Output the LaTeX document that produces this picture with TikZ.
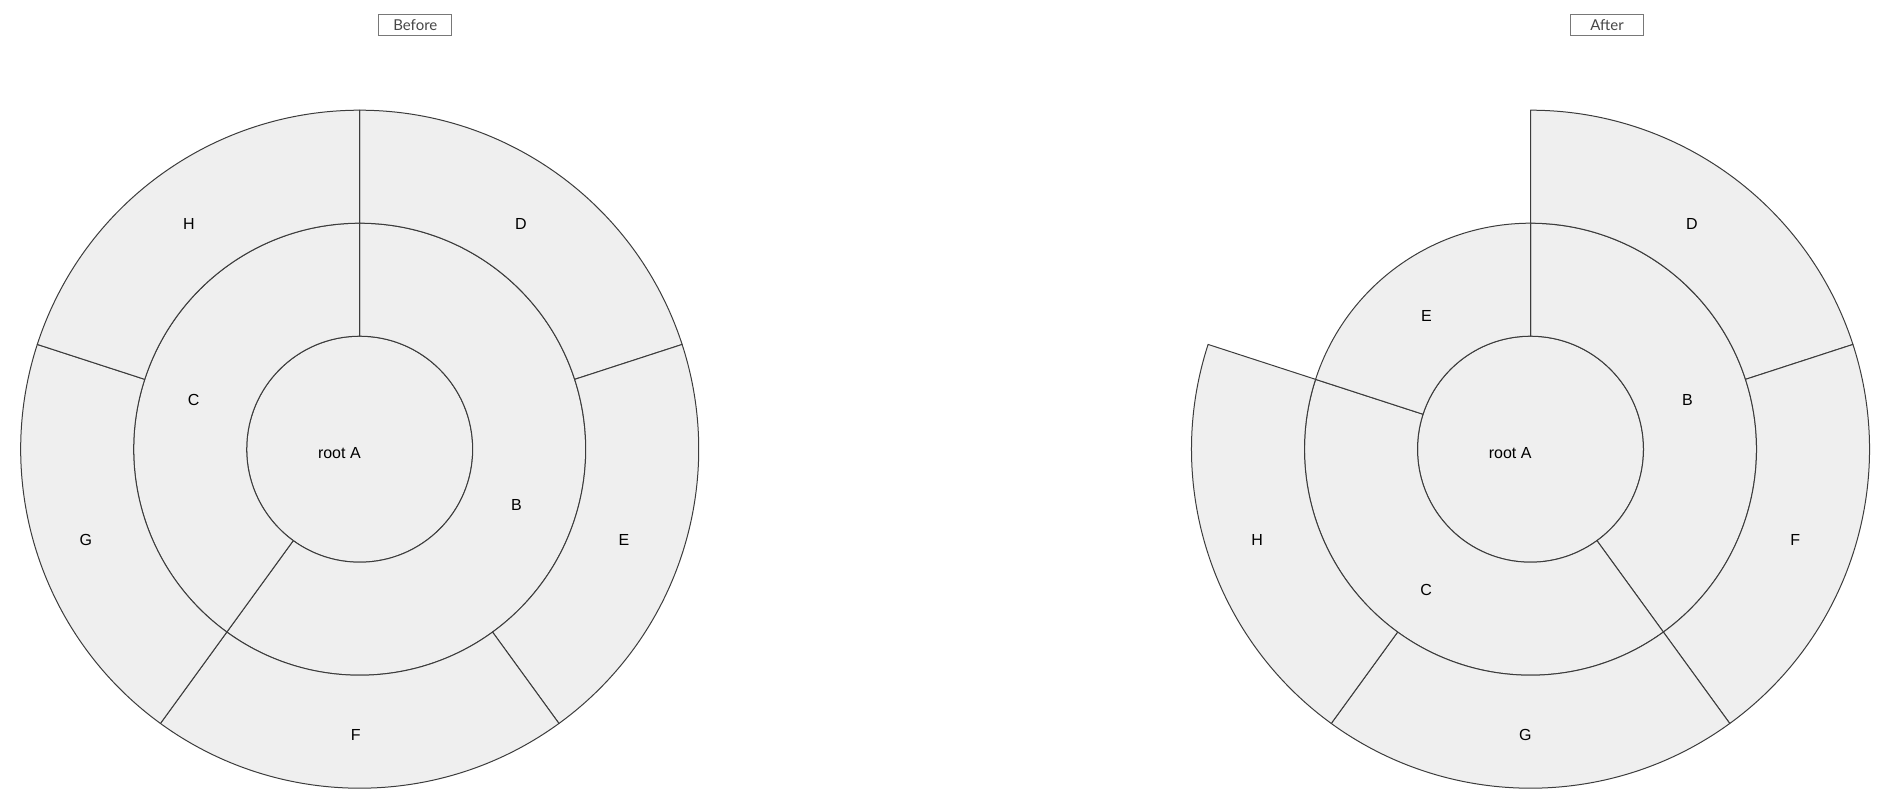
\documentclass[tikz,border=0pt]{standalone}
\usepackage{fontspec}
\setmainfont{Liberation Sans}
\newfontfamily\titlefont{Lato}
\usetikzlibrary{calc}
\definecolor{sectfill}{RGB}{239,239,239}
\definecolor{sectline}{RGB}{60,60,60}
\definecolor{boxline}{RGB}{120,120,120}
\definecolor{boxtext}{RGB}{70,70,70}
\tikzset{
  sect/.style={fill=sectfill, draw=sectline, line width=1pt, line join=round},
  lbl/.style={anchor=east, inner sep=0pt, font=\fontsize{16}{19}\selectfont, yshift=-3.5pt, xshift=1.2pt},
  rootlbl/.style={lbl, yshift=-0.5pt},
  titlebox/.style={draw=boxline, line width=1pt, minimum width=72.7pt, minimum height=21pt, inner sep=0pt, font=\titlefont\fontsize{15}{17}\selectfont, text=boxtext},
}
% center, start angle, end angle, inner radius, outer radius
\newcommand\ringsector[5]{%
  \path[sect] ($(#1)+(#2:#4pt)$) arc[start angle=#2, end angle=#3, radius=#4pt]
    -- ($(#1)+(#3:#5pt)$) arc[start angle=#3, end angle=#2, radius=#5pt] -- cycle;}
\begin{document}
\begin{tikzpicture}[x=1pt,y=1pt]
\useasboundingbox (0,0) rectangle (1878,798);
\coordinate (CL) at (359.7,348.8);
\coordinate (CR) at (1530.5,348.8);

% ---------- Before ----------
\path[sect] (CL) circle[radius=113pt];
\ringsector{CL}{90}{-126}{113}{226}
\ringsector{CL}{90}{234}{113}{226}
\ringsector{CL}{90}{18}{226}{339}
\ringsector{CL}{18}{-54}{226}{339}
\ringsector{CL}{-54}{-126}{226}{339}
\ringsector{CL}{-126}{-198}{226}{339}
\ringsector{CL}{-198}{-270}{226}{339}

\node[rootlbl] (bA) at (CL) {root A};
\node[lbl] (bB) at ($(CL)+(-18:169.5pt)$) {B};
\node[lbl] (bC) at ($(CL)+(162:169.5pt)$) {C};
\node[lbl] (bD) at ($(CL)+(54:282.5pt)$) {D};
\node[lbl] (bE) at ($(CL)+(-18:282.5pt)$) {E};
\node[lbl] (bF) at ($(CL)+(-90:282.5pt)$) {F};
\node[lbl] (bG) at ($(CL)+(198:282.5pt)$) {G};
\node[lbl] (bH) at ($(CL)+(126:282.5pt)$) {H};

% ---------- After ----------
\path[sect] (CR) circle[radius=113pt];
\ringsector{CR}{90}{-54}{113}{226}
\ringsector{CR}{-54}{-198}{113}{226}
\ringsector{CR}{90}{162}{113}{226}
\ringsector{CR}{90}{18}{226}{339}
\ringsector{CR}{18}{-54}{226}{339}
\ringsector{CR}{-54}{-126}{226}{339}
\ringsector{CR}{-126}{-198}{226}{339}

\node[rootlbl] (aA) at (CR) {root A};
\node[lbl] (aB) at ($(CR)+(18:169.5pt)$) {B};
\node[lbl] (aC) at ($(CR)+(-126:169.5pt)$) {C};
\node[lbl] (aE) at ($(CR)+(126:169.5pt)$) {E};
\node[lbl] (aD) at ($(CR)+(54:282.5pt)$) {D};
\node[lbl] (aF) at ($(CR)+(-18:282.5pt)$) {F};
\node[lbl] (aG) at ($(CR)+(-90:282.5pt)$) {G};
\node[lbl] (aH) at ($(CR)+(198:282.5pt)$) {H};

% ---------- titles ----------
\node[titlebox] (tBefore) at (415.3,773.2) {Before};
\node[titlebox] (tAfter) at (1607,773.2) {After};
\end{tikzpicture}
\end{document}
